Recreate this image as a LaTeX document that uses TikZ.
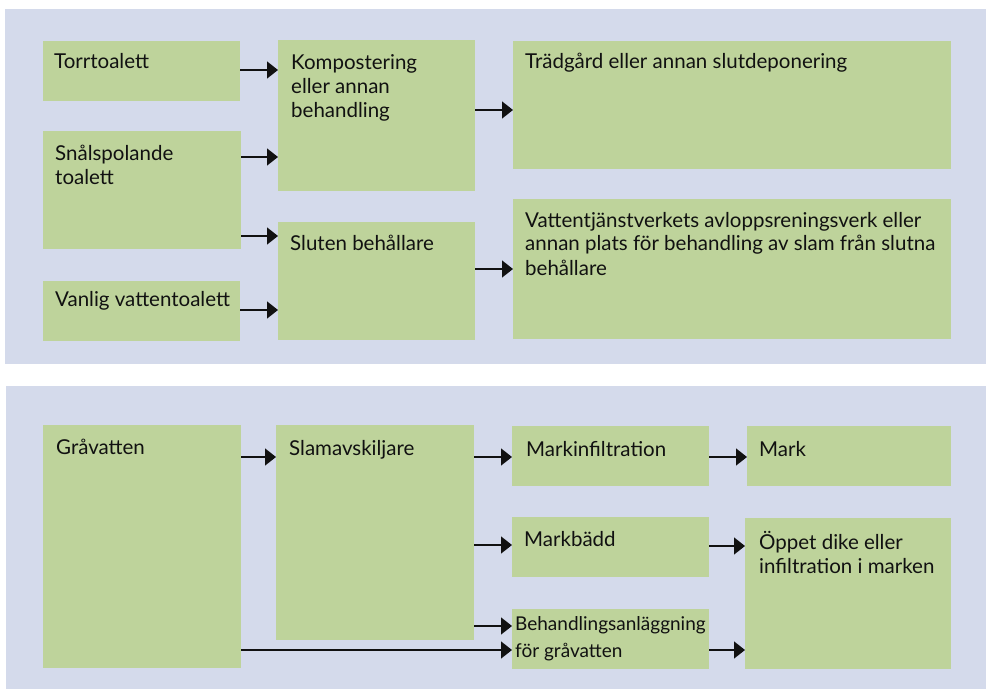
\documentclass[tikz,border=0pt]{standalone}
\usepackage{fontspec}
\setmainfont{Lato}
\usetikzlibrary{arrows.meta}
\definecolor{panelbg}{HTML}{D4DAEB}
\definecolor{boxfill}{HTML}{BED39B}
\definecolor{ink}{HTML}{111111}
\tikzset{
  panel/.style={fill=panelbg, draw=none},
  box/.style={fill=boxfill, draw=none, inner sep=0pt, outer sep=0pt, anchor=north west},
  txt/.style={inner sep=0pt, anchor=base west, text=ink, font=\fontsize{20.5}{24}\selectfont},
  arr/.style={draw=ink, line width=1.3pt, -{Triangle[length=11pt,width=17pt]}, shorten >=0pt},
}
\newcommand{\mkbox}[6]{%
  \node[box, minimum width=#4pt-#2pt, minimum height=#5pt-#3pt] (#1) at (#2,#3) {};
}
\newcommand{\ml}[1]{\begin{tabular}[t]{@{}l@{}}#1\end{tabular}}
\begin{document}
\begin{tikzpicture}[x=1pt,y=-1pt]
\useasboundingbox (0,0) rectangle (986,690);
\fill[white] (0,0) rectangle (986,690);
% panels
\node[panel, inner sep=0pt, minimum width=981pt, minimum height=355pt, anchor=north west] (p1) at (5,9) {};
\node[panel, inner sep=0pt, minimum width=980pt, minimum height=303pt, anchor=north west] (p2) at (6,386) {};
% top boxes
\mkbox{torr}{43}{41}{240}{101}{}
\mkbox{snal}{43}{131}{241}{249}{}
\mkbox{vanl}{43}{281}{240}{341}{}
\mkbox{komp}{278}{40}{475}{191}{}
\mkbox{slut}{278}{222}{475}{340}{}
\mkbox{trad}{513}{41}{951}{169}{}
\mkbox{vatt}{513}{199}{951}{339}{}
% bottom boxes
\mkbox{grav}{43}{425}{241}{668}{}
\mkbox{slam}{276}{425}{474}{640}{}
\mkbox{minf}{512}{426}{709}{486}{}
\mkbox{mark}{747}{426}{951}{486}{}
\mkbox{mbad}{512}{517}{709}{577}{}
\mkbox{oppe}{745}{518}{951}{669}{}
\mkbox{beha}{512}{609}{709}{669}{}
% texts
\node[txt] (torr-t) at (54,69) {Torrtoalett};
\node[txt] (snal-t) at (55,161) {\ml{Snålspolande\\toalett}};
\node[txt] (vanl-t) at (55,306) {Vanlig vattentoalett};
\node[txt] (komp-t) at (291,69.5) {\ml{Kompostering\\eller annan\\behandling}};
\node[txt] (slut-t) at (290,250) {Sluten behållare};
\node[txt] (trad-t) at (525,69) {Trädgård eller annan slutdeponering};
\node[txt] (vatt-t) at (525,227) {\ml{Vattentjänstverkets avloppsreningsverk eller\\annan plats för behandling av slam från slutna\\behållare}};
\node[txt] (grav-t) at (56,454) {Gråvatten};
\node[txt] (slam-t) at (289,455) {Slamavskiljare};
\node[txt] (minf-t) at (526,456) {Markinfiltration};
\node[txt] (mark-t) at (759,456) {Mark};
\node[txt] (mbad-t) at (524,546) {Markbädd};
\node[txt] (oppe-t) at (759,549) {\ml{Öppet dike eller\\infiltration i marken}};
\node[txt, font=\fontsize{19}{27}\selectfont] (beha-t) at (515,630) {\ml{Behandlingsanläggning\\för gråvatten}};
% arrows top
\draw[arr] (torr.east |- 0,70) -- (komp.west |- 0,70);
\draw[arr] (snal.east |- 0,157) -- (komp.west |- 0,157);
\draw[arr] (snal.east |- 0,236) -- (slut.west |- 0,236);
\draw[arr] (vanl.east |- 0,310) -- (slut.west |- 0,310);
\draw[arr] (komp.east |- 0,110) -- (trad.west |- 0,110);
\draw[arr] (slut.east |- 0,269) -- (vatt.west |- 0,269);
% arrows bottom
\draw[arr] (grav.east |- 0,457) -- (slam.west |- 0,457);
\draw[arr] (slam.east |- 0,457) -- (minf.west |- 0,457);
\draw[arr] (slam.east |- 0,545) -- (mbad.west |- 0,545);
\draw[arr] (slam.east |- 0,626) -- (beha.west |- 0,626);
\draw[arr] (grav.east |- 0,650) -- (beha.west |- 0,650);
\draw[arr] (minf.east |- 0,457) -- (mark.west |- 0,457);
\draw[arr] (mbad.east |- 0,546) -- (oppe.west |- 0,546);
\draw[arr] (beha.east |- 0,650) -- (oppe.west |- 0,650);
\end{tikzpicture}
\end{document}
